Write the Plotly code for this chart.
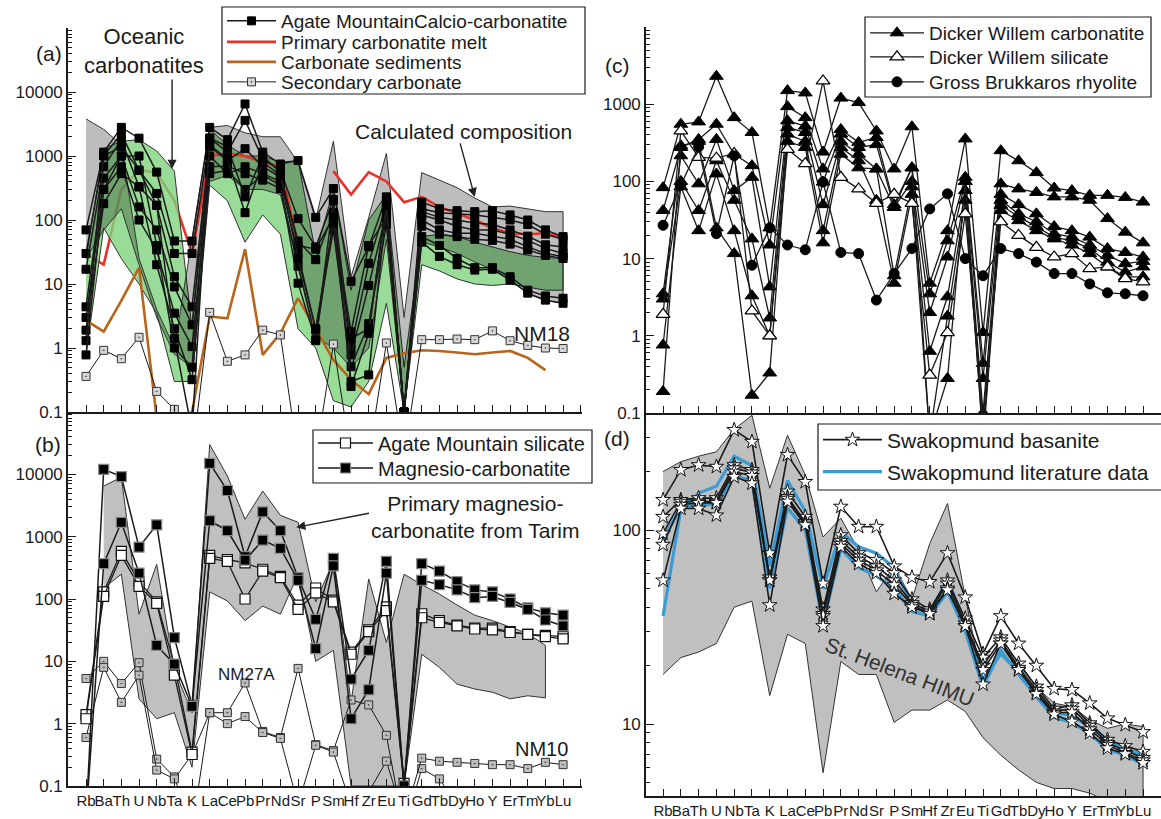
import plotly.graph_objects as go

elements = ["Rb", "Ba", "Th", "U", "Nb", "Ta", "K", "La", "Ce", "Pb", "Pr", "Nd", "Sr", "P",
            "Sm", "Hf", "Zr", "Eu", "Ti", "Gd", "Tb", "Dy", "Ho", "Y", "Er", "Tm", "Yb", "Lu"]
N = len(elements)
xi = list(range(N))

# ---------------- Panel (a) ----------------
calcio_1 = [70, 1150, 2800, 1900, 560, 47, 47, 2800, 1800, 6500, 1150, 750, 850, 110, 310, 11, 38, 230, 0.1, 190, 150, 140, 135, 140, 120, 100, 70, 55]
calcio_2 = [30, 1020, 2200, 600, 260, 30, 30, 1900, 1150, 3600, 900, 600, 105, 38, 210, 1.05, 21, 180, 0.1, 150, 130, 125, 120, 110, 100, 85, 60, 50]
calcio_3 = [17, 680, 1800, 330, 170, 13, 4.4, 1400, 850, 1300, 680, 470, 47, 24, 130, 0.78, 9.5, 130, 0.1, 135, 110, 100, 90, 85, 70, 56, 41, 38]
calcio_4 = [4.4, 450, 1000, 160, 70, 9, 2.3, 1000, 530, 680, 530, 400, 30, 1.9, 70, 0.51, 2.4, 85, 0.1, 120, 100, 80, 70, 70, 60, 48, 36, 30]
calcio_5 = [3, 300, 680, 100, 34, 3.5, 1.05, 680, 700, 530, 420, 310, 19, 1.35, 200, 0.25, 1.7, 200, 0.1, 100, 70, 62, 62, 56, 50, 38, 30, 27]
calcio_6 = [1.9, 180, 530, 330, 20, 2, 0.32, 530, 600, 300, 500, 350, 10.3, 1.3, 100, 1.8, 40, 110, 0.1, 80, 60, 55, 50, 48, 42, 34, 28, 25]
calcio_7 = [1.3, 1000, 1400, 600, 170, 1.4, 0.05, 1900, 1400, 230, 1000, 550, 40, 35, 110, 0.3, 0.38, 150, 0.1, 45, 27, 20, 16.5, 17, 11.5, 7.2, 5.6, 5]
calcio_8 = [0.78, 300, 1000, 1000, 40, 1.0, 0.5, 1500, 900, 130, 800, 500, 25, 2, 90, 1.4, 2, 170, 0.1, 55, 40, 25, 18, 18, 13, 8, 6.5, 6]
calcio_samples = [calcio_1, calcio_2, calcio_3, calcio_4, calcio_5, calcio_6, calcio_7, calcio_8]

primary_melt = [30, 20, 300, 600, 550, 200, 30, 1000, 1100, 1000, 800, 700, 40, None, 580, 250, 560, 400, 190, 230, 160, 125, 100, 75, 62, 60, 62, 55]
carbonate_sed = [2.7, 1.8, 5.5, 18, 0.08, 0.08, 0.1, 3.1, 2.9, 35, 0.78, 1.7, 6, 2.0, 0.65, 0.32, 0.19, 0.7, 0.83, 0.92, 0.9, 0.85, 0.8, 0.85, 0.9, 0.7, 0.45, None]
nm18 = [0.36, 0.92, 0.68, 1.47, 0.21, 0.11, 0.02, 3.6, 0.62, 0.78, 1.9, 1.6, 0.02, 0.02, 1.15, 0.02, 0.02, 1.2, 0.02, 1.35, 1.35, 1.38, 1.35, 1.85, 1.3, 1.1, 1.0, 0.98]

calc_comp_top = [3800, 2600, 1500, 25, 4, 1, 50, 2800, 3000, 2300, 2000, 2000, 800, 100, 1700, 13, 110, 1100, 3, 550, 420, 320, 220, 160, 165, 150, 135, 135]
calc_comp_bot = [25, 70, 150, 20, 3, 0.8, 0.5, 400, 500, 300, 300, 250, 20, 1.5, 1, 0.5, 1, 50, 0.1, 45, 38, 30, 22, 17, 12, 7, 5.5, 5]
oceanic_top = [25, 1300, 1700, 1800, 1200, 580, 2, 2600, 1500, 1000, 1000, 800, 850, 30, 300, 8, 100, 250, 0.5, 55, 60, 55, 45, 38, 32, 28, 26, 25]
oceanic_bot = [0.8, 75, 25, 10, 3.5, 0.3, 0.3, 350, 200, 45, 120, 60, 2, 1, 0.15, 0.12, 0.3, 5, 0.1, 20, 16, 12, 10, 9.5, 10, 9, 8, 8]

# ---------------- Panel (b) ----------------
magnesio_1 = [0.03, 12000, 9200, 680, 1550, 24, 2.0, 15000, 5500, 480, 2500, 1250, 220, 47, 450, 5.2, 15, 400, 0.1, 370, 280, 190, 140, 130, 100, 72, 60, 55]
magnesio_2 = [0.03, 370, 1700, 260, 18, 9, 1.9, 1800, 1250, 420, 880, 650, 200, 16, 340, 1.2, 3.5, 260, 0.1, 200, 170, 140, 105, 110, 88, 68, 46, 37]
silicate_1 = [1.4, 130, 580, 190, 90, 8.8, 0.35, 500, 430, 380, 300, 230, 80, 150, 96, 14, 32, 75, 0.11, 58, 45, 38, 34, 34, 30, 27, 26, 25]
silicate_2 = [1.2, 110, 500, 160, 85, 6, 0.32, 450, 400, 100, 280, 220, 68, 125, 90, 13, 30, 65, 0.1, 50, 42, 37, 33, 32, 29, 27, 25, 23]
nm27a = [5.3, 10, 4.4, 9.5, 0.27, 0.14, 0.02, 1.5, 1.5, 4.5, 0.75, 0.6, 7.7, 0.46, 0.37, 2.4, 2.0, 0.65, 0.02, 0.19, 0.13, 0.05, None, None, None, None, None, None]
nm10 = [0.6, 8, 2.2, 6, 0.18, 0.13, 0.32, 1.5, 1.0, 1.3, 0.72, 0.58, 0.05, 0.45, 0.35, 0.05, 0.08, 0.25, 0.03, 0.28, 0.25, 0.24, 0.23, 0.22, 0.22, 0.19, 0.24, 0.22]
tarim_top = [None, 6500, 9000, 57, 360, 7.4, 1.5, 30000, 9400, 1900, 5400, 2200, 1700, 90, 400, 2.2, 210, 20, 250, 170, 120, 80, 55, 45, 35, 28, 18, None]
tarim_bot = [None, 150, 250, 2.5, 1.2, 1.5, 0.2, 130, 93, 45, 77, 57, 250, 10, 15, 0.1, 0.1, 0.1, 0.1, 13, 8, 4.3, 3.6, 3.2, 2.5, 2.8, 2.6, None]

# ---------------- Panel (c) ----------------
dw_carb_1 = [83, 550, 590, 2300, 670, 430, 25, 1500, 1400, 240, 1200, 1050, 450, 145, 510, 4.8, 23, 355, 1.1, 250, 185, 130, 82, 76, 66, 66, 62, 54]
dw_carb_2 = [42, 275, 350, 550, 225, 160, 15, 930, 670, 145, 470, 320, 370, 50, 150, 3.5, 17, 113, 0.44, 93, 80, 72, 63, 63, 57, 33, 22, 16]
dw_carb_3 = [3.5, 215, 93, 350, 76, 113, 4.3, 610, 520, 98, 410, 275, 300, 46, 100, 2.0, 10.5, 100, 0.28, 68, 50, 38, 26, 23, 19, 13.5, 12, 10.5]
dw_carb_4 = [3.0, 100, 42, 185, 57, 18, 1.7, 500, 430, 50, 330, 225, 145, 6.0, 85, 0.63, 3.2, 76, 0.1, 57, 38, 30, 21, 19, 15, 11, 8.6, 9.2]
dw_carb_5 = [0.76, 85, 23, 125, 23, 3.3, 1.0, 410, 330, 23, 275, 185, 57, 4.8, 68, 0.05, 1.8, 57, 0.05, 49, 35, 26, 19, 17, 13.5, 9, 6.7, 7.8]
dw_carb_6 = [0.19, 290, 330, 25, 11.6, 0.17, 0.33, 330, 275, 16, 225, 150, 145, 46, 150, 0.05, 0.28, 100, 0.04, 42, 31, 23, 18, 15, 11.6, 7.8, 5.8, 5.8]
dw_carb_samples = [dw_carb_1, dw_carb_2, dw_carb_3, dw_carb_4, dw_carb_5, dw_carb_6]
dw_silicate = [1.9, 450, 205, 200, 230, 2.1, 1.0, 260, 170, 2000, 113, 80, 52, 68, 52, 0.31, 1.1, 38, 0.08, 30, 20, 14, 10.5, 11.6, 7.4, 7.8, 5.5, 5.0]
gb_rhyolite = [27, 90, 280, 21, 215, 8.2, 25, 15, 13, 98, 12, 11.6, 2.9, 6.4, 13.5, 44, 69, 10, 6, 13.5, 11.6, 9, 6.4, 6.4, 4.7, 3.6, 3.5, 3.3]

# ---------------- Panel (d) ----------------
swk_1 = [143, 204, 216, 212, 328, 285, 76, 244, 177, 53, 132, 104, 104, 65, 57, 54, 76, 45, 23, 36, 26, 20, 15.2, 15, 12.8, 10.7, 9.9, 9.1]
swk_2 = [117, 143, 146, 146, 216, 204, 57, 158, 117, 39, 94, 76, 70, 60, 44, 39, 55, 35, 22, 28, 20.5, 15.6, 12, 12.5, 10.1, 8.3, 7.7, 7.2]
swk_3 = [96, 140, 140, 140, 208, 198, 55, 148, 110, 37, 88, 73, 65, 55, 42, 38, 53, 33, 20, 27, 19.5, 15, 11.6, 12, 9.8, 8, 7.3, 6.7]
swk_4 = [84, 135, 138, 138, 200, 190, 55, 145, 108, 36, 85, 70, 62, 52, 41, 37, 50, 32, 19, 26, 19, 14.5, 11.4, 11.5, 9.4, 7.8, 7.1, 6.5]
swk_5 = [55, 129, 129, 119, 188, 174, 41, 140, 106, 32, 82, 67, 60, 47, 40, 37, 49, 32, 16, 26, 19, 14.3, 11.2, 10.3, 9.0, 7.5, 7.0, 6.3]
swk_samples = [swk_1, swk_2, swk_3, swk_4, swk_5]
swk_lit_1 = [36, 128, 155, 168, 240, 215, 65, 180, 125, 50, 98, 82, 76, 64, 41, 37, 56, 32, 17, 23, 18.5, 14.5, 11.5, 11, 9.7, 8.3, 7.5, 6.9]
swk_lit_2 = [90, 130, 135, 135, 190, 180, 50, 130, 100, 33, 80, 64, 58, 50, 38, 36, 48, 30, 15.5, 24, 18, 13.8, 10.8, 10.2, 8.9, 7.4, 6.9, 6.2]
helena_top = [200, 225, 240, 253, 330, 390, 164, 308, 192, 92, 115, 79, 48, 65, 44, 85, 137, 45, 16, 26, 21, 15.5, 12.8, 12.3, 10.5, 9.5, 10, 9.7]
helena_bot = [18, 22, 23.5, 26, 40, 43, 14, 29, 26, 5.6, 21, 18, 18, 10.2, 11.8, 11.8, 13.3, 11.6, 8.5, 6.9, 5.8, 5.0, 4.65, 4.65, 4.4, 4.0, 3.5, 3.5]

FONT = "Liberation Sans, Arial, sans-serif"
INK = "#1a1a1a"
RED = "#e5332a"
W, H = 1161, 819


def band(top, bot):
    idx = [i for i in range(N) if top[i] is not None and bot[i] is not None]
    return idx + idx[::-1], [top[i] for i in idx] + [bot[i] for i in idx[::-1]]


fig = go.Figure()


def add_fill(top, bot, color, ax, ay, line_color="#333"):
    bx, by = band(top, bot)
    fig.add_trace(go.Scatter(x=bx, y=by, mode="lines", fill="toself", fillcolor=color,
                             line=dict(color=line_color, width=1), showlegend=False,
                             hoverinfo="skip", xaxis=ax, yaxis=ay))


def add_line(vals, ax, ay, name=None, legend="legend", show=False, color=INK, width=1.4,
             symbol=None, msize=8, mcolor=INK, mline=INK, mlw=1):
    mode = "lines+markers" if symbol else "lines"
    fig.add_trace(go.Scatter(
        x=xi, y=vals, mode=mode, name=name, legend=legend, showlegend=show,
        line=dict(color=color, width=width),
        marker=dict(symbol=symbol or "circle", size=msize, color=mcolor,
                    line=dict(color=mline, width=mlw)),
        xaxis=ax, yaxis=ay, connectgaps=False))


# ---- panel (a)
# the Rb-K part of the melt curve sits beneath the translucent oceanic-carbonatite field
melt_under = [v if i <= 6 else None for i, v in enumerate(primary_melt)]
melt_over = [v if i >= 6 else None for i, v in enumerate(primary_melt)]
add_line(melt_under, "x", "y", name="melt_under", color=RED, width=2.6)
add_fill(oceanic_top, oceanic_bot, "rgba(126,211,126,0.8)", "x", "y")
add_fill(calc_comp_top, calc_comp_bot, "rgba(0,0,0,0.26)", "x", "y")
add_line(carbonate_sed, "x", "y", name="Carbonate sediments", legend="legend3", show=True,
         color="#b8651b", width=2.6)
add_line(melt_over, "x", "y", name="Primary carbonatite melt", legend="legend2", show=True,
         color=RED, width=2.6)
add_line(nm18, "x", "y", name="Secondary carbonate", legend="legend4", show=True, width=1,
         symbol="square-dot", msize=8, mcolor="#d6d6d6", mline="#333")
for k, s in enumerate(calcio_samples):
    add_line(s, "x", "y", name="Agate MountainCalcio-carbonatite", legend="legend", show=(k == 0),
             width=1.5, symbol="square", msize=8, mcolor="#000", mline="#000")

# ---- panel (b)
add_fill(tarim_top, tarim_bot, "rgb(192,192,192)", "x2", "y2")
for s in [nm27a, nm10]:
    add_line(s, "x2", "y2", name="dots_b", width=1, symbol="square-dot", msize=8,
             mcolor="#bdbdbd", mline="#333")
for k, s in enumerate([silicate_1, silicate_2]):
    add_line(s, "x2", "y2", name="Agate Mountain silicate", legend="legend5", show=(k == 0),
             width=1.3, symbol="square", msize=10, mcolor="white", mline="#111", mlw=1.2)
for k, s in enumerate([magnesio_1, magnesio_2]):
    add_line(s, "x2", "y2", name="Magnesio-carbonatite", legend="legend6", show=(k == 0),
             width=1.5, symbol="square", msize=10, mcolor="#000", mline="#888", mlw=1.2)

# ---- panel (c)
for k, s in enumerate(dw_carb_samples):
    add_line(s, "x3", "y3", name="Dicker Willem carbonatite", legend="legend7", show=(k == 0),
             width=1.3, symbol="triangle-up", msize=12, mcolor="#000", mline="#000")
add_line(dw_silicate, "x3", "y3", name="Dicker Willem silicate", legend="legend8", show=True,
         width=1.3, symbol="triangle-up", msize=12, mcolor="white", mline="#000", mlw=1.2)
add_line(gb_rhyolite, "x3", "y3", name="Gross Brukkaros rhyolite", legend="legend9", show=True,
         width=1.3, symbol="circle", msize=10, mcolor="#000", mline="#000")

# ---- panel (d)
add_fill(helena_top, helena_bot, "rgb(192,192,192)", "x4", "y4")
for k, s in enumerate([swk_lit_1, swk_lit_2]):
    add_line(s, "x4", "y4", name="Swakopmund literature data", legend="legend11", show=(k == 0),
             color="#3d9bd3", width=3.2)
for k, s in enumerate(swk_samples):
    add_line(s, "x4", "y4", name="Swakopmund basanite", legend="legend10", show=(k == 0),
             width=1.6, symbol="star", msize=11, mcolor="white", mline="#111", mlw=1)


def minor_vals(lo, hi, vmin, vmax):
    return [m * 10 ** e for e in range(lo, hi) for m in range(2, 10) if vmin <= m * 10 ** e <= vmax]


def yax(domain, rng, majors, labels, minors, anchor):
    return dict(type="log", domain=domain, range=rng, anchor=anchor, tickmode="array",
                tickvals=majors, ticktext=labels, ticks="inside", ticklen=8, tickwidth=1.3,
                tickcolor=INK, showline=True, linecolor=INK, linewidth=1.6, showgrid=False,
                zeroline=False, automargin=False, tickfont=dict(size=17, color=INK, family=FONT),
                minor=dict(tickmode="array", tickvals=minors, ticks="inside", ticklen=4,
                           tickwidth=1, tickcolor=INK, showgrid=False))


def xax(domain, rng, anchor, labels):
    return dict(domain=domain, range=rng, anchor=anchor, tickmode="array", tickvals=list(range(N + 1)),
                ticktext=elements + [""], showticklabels=labels, tickangle=0, ticks="inside",
                ticklen=7, tickwidth=1.3, tickcolor=INK, showline=True, linecolor=INK, linewidth=1.6,
                showgrid=False, zeroline=False, automargin=False,
                tickfont=dict(size=15, color=INK, family=FONT))


xa_dom = [68 / W, 582 / W]
xc_dom = [646 / W, 1.0]
ya_dom = [1 - 412 / H, 1 - 28 / H]
yb_dom = [1 - 786 / H, 1 - 412 / H]
yc_dom = [1 - 413 / H, 1 - 27 / H]
yd_dom = [1 - 796 / H, 1 - 413 / H]

maj_ab = [0.1, 1, 10, 100, 1000, 10000, 100000]
lab_ab = ["0.1", "1", "10", "100", "1000", "10000", ""]
maj_c = [0.1, 1, 10, 100, 1000, 10000]
lab_c = ["0.1", "1", "10", "100", "1000", ""]


def leg(x, yrow, size, iw):
    return dict(x=x / W, y=1 - yrow / H, xanchor="left", yanchor="middle", bgcolor="rgba(0,0,0,0)",
                borderwidth=0, font=dict(size=size, color=INK, family=FONT),
                tracegroupgap=0, itemwidth=iw, traceorder="normal")


def box(x0, y0, x1, y1):
    return dict(type="rect", xref="paper", yref="paper", x0=x0 / W, x1=x1 / W, y0=1 - y1 / H,
                y1=1 - y0 / H, fillcolor="white", line=dict(color=INK, width=1.2), layer="above")


def note(text, x, y, xref, yref, size, angle=0, color=INK):
    return dict(text=text, x=x, y=y, xref=xref, yref=yref, showarrow=False, textangle=angle,
                font=dict(size=size, color=color, family=FONT), align="center")


def arrow(x, y, ax, ay, xref, yref):
    return dict(text="", x=x, y=y, ax=ax, ay=ay, xref=xref, yref=yref, axref=xref, ayref=yref,
                showarrow=True, arrowhead=2, arrowsize=1.3, arrowwidth=1.4, arrowcolor="#222")


annotations = [
    note("(a)", 34 / W, 1 - 40 / H, "paper", "paper", 21),
    note("(b)", 33 / W, 1 - 445 / H, "paper", "paper", 21),
    note("(c)", 617 / W, 1 - 52 / H, "paper", "paper", 21),
    note("(d)", 617 / W, 1 - 438 / H, "paper", "paper", 21),
    note("Oceanic<br>carbonatites", 3.28, 4.64, "x", "y", 22),
    arrow(4.87, 2.80, 4.87, 4.22, "x", "y"),
    note("Calculated composition", 21.36, 3.38, "x", "y", 21),
    arrow(22.0, 2.36, 21.15, 3.22, "x", "y"),
    note("NM18", 25.8, 0.23, "x", "y", 21),
    note("Primary magnesio-<br>carbonatite from Tarim", 22.04, 3.32, "x2", "y2", 21),
    arrow(11.9, 3.15, 16.1, 3.38, "x2", "y2"),
    note("NM27A", 9.1, 0.79, "x2", "y2", 17),
    note("NM10", 25.8, -0.41, "x2", "y2", 20),
    note("St. Helena HIMU", 13.3, 1.27, "x4", "y4", 21, angle=21, color="#333"),
]

shapes = [
    box(222, 7, 585, 94),
    box(313, 430, 592, 483),
    box(865, 17, 1151, 97),
    box(818, 424, 1175, 490),
]

fig.update_layout(
    width=W, height=H, autosize=False, margin=dict(l=0, r=0, t=0, b=0),
    paper_bgcolor="white", plot_bgcolor="rgba(0,0,0,0)",
    font=dict(family=FONT, color=INK),
    xaxis=xax(xa_dom, [-1.02, 28.07], "y", False),
    yaxis=yax(ya_dom, [-1, 5], maj_ab, lab_ab, minor_vals(-1, 5, 0.1, 1e5), "x"),
    xaxis2=xax(xa_dom, [-1.02, 28.07], "y2", True),
    yaxis2=yax(yb_dom, [-1, 5], maj_ab, lab_ab, minor_vals(-1, 5, 0.1, 1e5), "x2"),
    xaxis3=xax(xc_dom, [-0.96, 28.01], "y3", False),
    yaxis3=yax(yc_dom, [-1, 4], maj_c, lab_c, minor_vals(-1, 4, 0.1, 1e4), "x3"),
    xaxis4=xax(xc_dom, [-0.96, 28.01], "y4", True),
    yaxis4=yax(yd_dom, [0.629, 2.603], [10, 100], ["10", "100"], minor_vals(0, 3, 4.3, 401), "x4"),
    legend=leg(222, 21, 19, 49),
    legend2=leg(222, 42, 19, 49),
    legend3=leg(222, 62, 19, 49),
    legend4=leg(222, 82, 19, 49),
    legend5=leg(313, 443, 20, 55),
    legend6=leg(313, 468, 20, 55),
    legend7=leg(865, 33, 19, 54),
    legend8=leg(865, 57, 19, 54),
    legend9=leg(865, 82, 19, 54),
    legend10=leg(818, 440, 21, 59),
    legend11=leg(818, 472, 21, 59),
    shapes=shapes,
    annotations=annotations,
    hovermode=False,
)

fig.write_html("out.html")
